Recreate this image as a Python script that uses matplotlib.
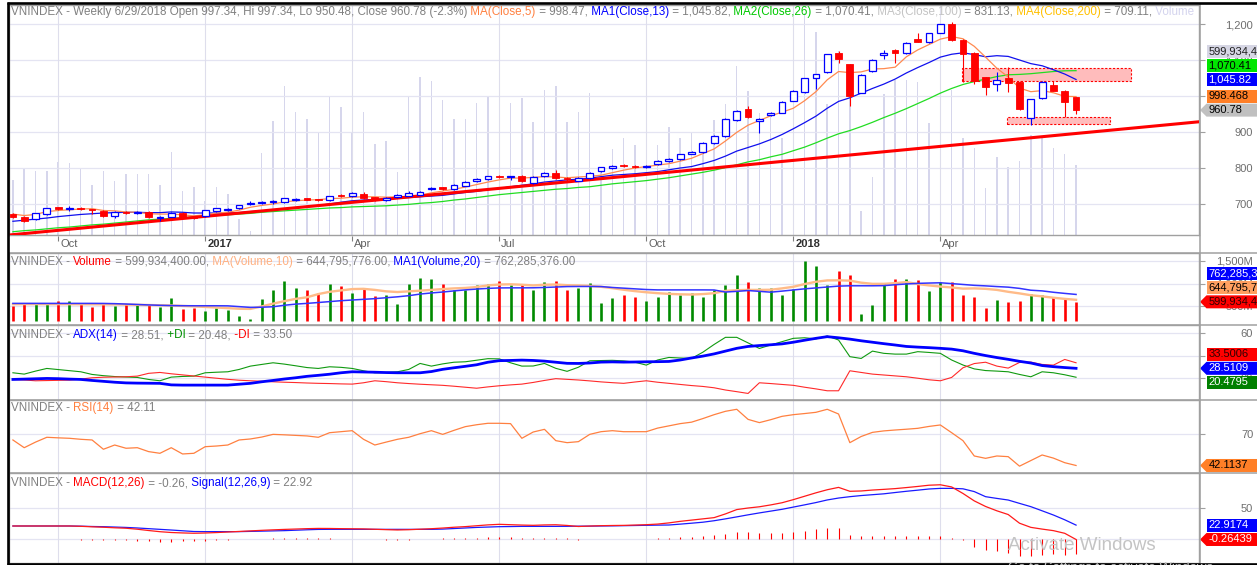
import numpy as np
import pandas as pd
import matplotlib
matplotlib.use("Agg")
import matplotlib.pyplot as plt
from matplotlib.patches import Rectangle, Polygon
from matplotlib.lines import Line2D
from matplotlib.ticker import FuncFormatter
from matplotlib.transforms import IdentityTransform

# weekly VNINDEX bars, last bar = week of 6/29/2018
OPEN = [672, 665, 658, 672, 691, 685, 689, 686, 681, 668,
        679, 676, 677, 662, 665, 676, 665, 666, 681, 682,
        688, 700, 703, 705, 706, 710, 716, 713, 710, 725,
        722, 729, 719, 711, 719, 723, 726, 741, 746, 742,
        751, 763, 769, 778, 775, 778, 758, 778, 787, 773,
        765, 771, 792, 800, 809, 806, 803, 810, 820, 825,
        840, 845, 870, 889, 932, 963, 930, 946, 954, 987,
        1010, 1050, 1066, 1120, 1088, 1009, 1070, 1114, 1128, 1120,
        1157, 1150, 1176, 1200, 1155, 1120, 1052, 1033, 1049, 1040,
        938, 994, 1031, 1015, 997.34]
HIGH = [674, 666, 676, 690, 693, 694, 691, 687, 683, 681,
        681, 681, 681, 666, 678, 678, 667, 684, 690, 690,
        698, 708, 708, 711, 718, 716, 718, 715, 723, 727,
        732, 733, 720, 720, 728, 735, 737, 747, 748, 755,
        763, 772, 779, 780, 779, 780, 778, 789, 794, 775,
        775, 789, 804, 808, 811, 808, 808, 822, 828, 840,
        847, 871, 892, 938, 962, 972, 938, 956, 986, 1016,
        1051, 1062, 1118, 1126, 1090, 1060, 1102, 1128, 1130, 1150,
        1174, 1176, 1201, 1206, 1157, 1122, 1054, 1067, 1080, 1042,
        993, 1042, 1042, 1017, 997.34]
LOW = [660, 651, 656, 670, 684, 680, 683, 673, 665, 660,
       673, 672, 661, 654, 663, 663, 658, 664, 679, 681,
       686, 698, 701, 700, 704, 708, 710, 708, 708, 719,
       720, 715, 708, 709, 717, 721, 724, 739, 740, 740,
       749, 761, 767, 773, 766, 761, 756, 776, 769, 764,
       763, 769, 790, 798, 804, 801, 801, 808, 818, 823,
       838, 843, 868, 887, 930, 939, 898, 944, 952, 985,
       1008, 1020, 1064, 1091, 972, 1007, 1068, 1102, 1091, 1118,
       1149, 1148, 1174, 1152, 1040, 1033, 1003, 1015, 1012, 961,
       919, 992, 1013, 942, 950.48]
CLOSE = [664, 653, 674, 688, 686, 689, 686, 684, 667, 679,
         675, 678, 665, 665, 676, 665, 662, 682, 688, 687,
         696, 703, 706, 707, 716, 714, 712, 710, 721, 721,
         730, 717, 710, 718, 726, 731, 734, 745, 742, 753,
         761, 770, 777, 775, 777, 763, 776, 787, 771, 769,
         773, 787, 802, 806, 806, 803, 806, 820, 826, 838,
         845, 869, 889, 935, 959, 941, 936, 954, 984, 1014,
         1049, 1060, 1116, 1102, 1000, 1058, 1100, 1120, 1120, 1148,
         1151, 1174, 1199, 1155, 1118, 1043, 1024, 1044, 1037, 963,
         991, 1040, 1015, 983.6, 960.78]

MA5 = [672, 668, 671, 679, 682, 684, 686, 687, 682, 681,
       678, 677, 673, 672, 672, 670, 667, 670, 675, 677,
       683, 691, 696, 700, 706, 709, 711, 712, 715, 716,
       719, 720, 720, 719, 720, 720, 724, 731, 736, 741,
       747, 754, 761, 767, 772, 772, 774, 776, 775, 773,
       775, 777, 780, 787, 794, 800, 804, 808, 812, 819,
       827, 840, 853, 875, 899, 919, 932, 945, 955, 966,
       987, 1012, 1045, 1068, 1065, 1067, 1075, 1076, 1080, 1109,
       1128, 1143, 1158, 1165, 1159, 1138, 1108, 1077, 1053, 1022,
       1012, 1015, 1009, 999, 998.468]
MA13 = [652, 655, 658, 661, 665, 668, 671, 673, 675, 676,
        677, 677, 676, 676, 678, 677, 675, 675, 675, 675,
        676, 679, 681, 683, 686, 690, 693, 696, 700, 705,
        709, 711, 713, 714, 716, 718, 720, 722, 724, 728,
        732, 735, 740, 743, 748, 752, 756, 761, 764, 767,
        769, 772, 776, 780, 782, 784, 787, 790, 795, 800,
        804, 812, 821, 833, 847, 857, 867, 879, 893, 909,
        926, 944, 966, 985, 995, 1008, 1021, 1033, 1047, 1064,
        1079, 1093, 1108, 1116, 1120, 1115, 1109, 1112, 1110, 1100,
        1090, 1084, 1073, 1061, 1045.82]
MA26 = [623, 626, 628, 631, 634, 636, 639, 642, 644, 647,
        650, 653, 656, 658, 660, 662, 664, 666, 668, 670,
        672, 674, 677, 679, 681, 683, 685, 687, 689, 690,
        692, 693, 694, 695, 697, 699, 702, 704, 707, 711,
        714, 718, 722, 726, 729, 732, 735, 738, 741, 743,
        746, 748, 752, 756, 759, 762, 765, 769, 773, 778,
        783, 788, 794, 801, 809, 817, 823, 831, 838, 848,
        858, 870, 883, 895, 904, 915, 927, 940, 952, 965,
        979, 993, 1008, 1021, 1032, 1040, 1047, 1054, 1059, 1060,
        1062, 1065, 1068, 1070, 1070.41]
MA100_LAST, MA200_LAST = 831.13, 709.11

# volume in millions of shares
VOLUME = [510, 575, 565, 565, 618, 612, 575, 485, 565, 508,
          545, 545, 545, 485, 675, 450, 470, 390, 470, 430,
          280, 215, 670, 855, 1060, 912, 870, 795, 1000, 940,
          786, 912, 720, 743, 560, 1000, 1115, 1090, 983, 868,
          868, 962, 1000, 1060, 964, 992, 854, 1037, 1060, 854,
          911, 1020, 575, 692, 755, 714, 625, 714, 825, 759,
          796, 714, 862, 959, 1181, 1033, 907, 907, 759, 885,
          1492, 1381, 959, 1270, 1181, 329, 529, 1018, 1100, 1100,
          1085, 848, 1040, 1040, 759, 699, 462, 647, 588, 625,
          774, 759, 699, 662, 599.9344]
VOL_MA10 = [548, 550, 550, 549, 549, 548, 547, 546, 545, 544,
            540, 535, 530, 525, 520, 510, 500, 488, 475, 462,
            448, 445, 500, 560, 615, 665, 700, 770, 820, 850,
            880, 885, 862, 830, 815, 830, 845, 862, 880, 895,
            905, 925, 960, 980, 985, 975, 960, 975, 980, 965,
            960, 950, 930, 900, 865, 835, 810, 790, 775, 765,
            760, 770, 790, 840, 855, 862, 862, 865, 895, 930,
            990, 1040, 1070, 1072, 1065, 1020, 995, 995, 1010, 1033,
            990, 960, 935, 915, 890, 895, 885, 862, 820, 785,
            745, 720, 690, 665, 644.795776]
VOL_MA20 = [566, 566, 566, 566, 566, 566, 566, 566, 565, 560,
            552, 542, 532, 524, 518, 515, 514, 514, 514, 512,
            495, 478, 482, 492, 525, 550, 566, 585, 605, 625,
            640, 655, 670, 690, 710, 735, 770, 795, 815, 840,
            862, 880, 895, 905, 907, 907, 908, 915, 925, 935,
            937, 937, 935, 915, 900, 885, 870, 862, 862, 862,
            862, 862, 860, 815, 830, 848, 830, 812, 835, 860,
            885, 905, 925, 945, 952, 952, 952, 955, 975, 992,
            1005, 1012, 1018, 1000, 981, 962, 950, 935, 922, 895,
            855, 840, 810, 785, 762.285376]

ADX = [18.5, 18.8, 19.1, 19.4, 19.2, 18.8, 18.5, 17.6, 16.8, 16.0,
       15.4, 15.2, 15.1, 15.0, 13.6, 13.4, 13.4, 13.4, 13.4, 13.4,
       14.2, 15.0, 16.4, 17.6, 18.9, 20.0, 21.3, 22.2, 23.2, 24.5,
       25.4, 25.2, 25.0, 24.7, 24.5, 24.5, 24.5, 25.6, 27.6, 29.0,
       30.3, 31.7, 34.0, 35.4, 35.6, 35.9, 35.6, 35.0, 34.0, 33.0,
       32.9, 33.3, 34.1, 34.3, 34.1, 34.2, 34.4, 34.5, 34.7, 36.0,
       37.8, 39.5, 41.5, 44.0, 46.5, 48.2, 49.0, 49.7, 50.5, 52.0,
       53.8, 55.5, 57.0, 56.0, 54.8, 53.3, 52.0, 50.7, 49.5, 48.2,
       47.6, 47.1, 46.5, 45.8, 44.3, 42.0, 40.0, 38.2, 36.6, 34.8,
       33.3, 31.0, 30.0, 29.2, 28.5109]
PLUS_DI = [24.5, 23.3, 26.0, 28.4, 27.4, 26.4, 25.4, 23.0, 21.9, 21.1,
           20.7, 20.3, 18.5, 17.3, 20.6, 21.2, 21.5, 24.5, 25.0, 25.4,
           27.5, 30.5, 32.0, 33.5, 32.3, 30.8, 29.2, 28.4, 29.9, 29.4,
           28.4, 26.3, 24.5, 24.8, 25.4, 27.5, 32.9, 30.5, 32.5, 34.0,
           34.4, 35.8, 37.2, 37.0, 33.5, 30.5, 30.6, 32.9, 28.5, 25.8,
           29.5, 35.3, 35.5, 35.7, 35.2, 34.0, 31.4, 36.0, 38.3, 37.8,
           37.4, 43.0, 50.0, 56.4, 56.4, 51.4, 46.4, 49.5, 52.5, 55.5,
           56.0, 55.0, 57.6, 54.0, 39.0, 37.4, 44.0, 42.0, 41.3, 41.3,
           43.5, 42.8, 42.0, 36.0, 31.5, 28.0, 26.5, 26.0, 25.4, 23.0,
           20.9, 25.4, 24.5, 22.7, 20.4795]
MINUS_DI = [18.5, 18.0, 17.3, 17.5, 17.7, 17.9, 18.8, 20.0, 20.5, 20.7,
            20.9, 21.5, 24.0, 24.8, 23.6, 22.6, 21.6, 20.6, 19.6, 18.6,
            17.8, 17.3, 16.9, 16.4, 16.0, 15.7, 15.3, 15.0, 14.8, 14.5,
            14.3, 15.5, 17.3, 16.5, 15.5, 14.8, 14.2, 13.7, 13.2, 12.4,
            11.5, 10.6, 11.8, 12.8, 13.6, 14.3, 15.8, 17.6, 19.2, 18.6,
            18.0, 17.2, 16.3, 15.6, 15.0, 16.2, 17.3, 16.0, 15.0, 14.0,
            13.0, 12.2, 11.0, 9.0, 7.5, 5.9, 15.5, 14.8, 14.0, 13.2,
            11.5, 10.0, 8.3, 8.3, 26.3, 24.8, 23.3, 22.5, 21.7, 20.9,
            19.6, 18.2, 17.3, 20.3, 29.0, 32.8, 34.0, 30.5, 28.7, 33.8,
            34.1, 32.0, 31.4, 36.5, 33.5006]
RSI = [64.9, 58.0, 63.0, 67.3, 66.8, 66.4, 65.5, 64.9, 56.6, 60.4,
       57.5, 58.0, 54.5, 53.0, 58.0, 52.4, 53.0, 58.9, 59.5, 60.4,
       64.9, 65.8, 67.5, 69.9, 69.5, 69.0, 68.5, 67.3, 71.4, 72.3,
       73.2, 65.5, 60.4, 63.0, 65.5, 67.3, 70.5, 73.2, 69.9, 73.5,
       76.8, 78.5, 79.8, 79.8, 79.5, 66.4, 72.0, 74.4, 64.3, 62.5,
       63.4, 69.9, 72.3, 73.2, 72.3, 72.3, 72.3, 75.5, 77.5, 79.5,
       80.8, 84.0, 87.5, 90.5, 92.3, 83.3, 80.4, 83.0, 86.0, 87.5,
       88.5, 89.6, 92.3, 88.1, 62.5, 68.0, 71.7, 73.0, 73.8, 74.5,
       75.3, 77.0, 78.3, 71.4, 64.3, 50.6, 48.5, 50.6, 50.0, 41.5,
       46.5, 51.5, 48.7, 44.6, 42.1137]
MACD = [21.5, 21.5, 21.5, 21.5, 21.5, 21.5, 21.0, 20.2, 19.5, 18.6,
        17.9, 16.3, 14.2, 12.3, 11.0, 10.3, 9.8, 10.2, 10.9, 11.8,
        12.7, 13.6, 14.5, 15.3, 16.0, 16.6, 17.2, 17.6, 17.5, 17.2,
        17.0, 16.8, 16.2, 15.6, 15.1, 15.5, 16.3, 17.1, 18.2, 19.5,
        20.5, 21.9, 23.3, 24.2, 23.6, 23.0, 22.6, 23.2, 23.5, 22.4,
        20.7, 21.4, 22.0, 22.3, 22.5, 23.0, 23.6, 24.6, 26.5, 29.0,
        31.0, 33.0, 35.0, 41.0, 48.0, 50.5, 52.5, 55.5, 59.0, 64.0,
        69.5, 75.0, 80.0, 83.8, 77.5, 78.0, 79.5, 80.6, 81.8, 83.5,
        85.3, 87.3, 88.0, 84.5, 74.0, 62.0, 53.0, 46.0, 40.0, 26.0,
        19.3, 16.5, 14.0, 9.7, -0.26439]
SIGNAL = [21.5, 21.5, 21.5, 21.5, 21.5, 21.5, 21.2, 20.7, 20.4, 19.8,
          19.2, 18.3, 17.2, 16.1, 15.0, 13.8, 12.6, 12.4, 12.4, 12.4,
          12.4, 12.8, 13.2, 13.6, 14.0, 14.7, 15.4, 16.0, 16.1, 16.1,
          16.1, 16.1, 16.1, 16.1, 16.1, 16.1, 16.1, 16.1, 16.5, 17.4,
          18.3, 19.2, 19.8, 20.4, 20.6, 20.9, 20.9, 20.9, 20.9, 21.0,
          21.2, 21.3, 21.5, 21.7, 22.0, 22.3, 22.6, 22.9, 23.1, 24.5,
          26.0, 27.6, 30.0, 33.0, 36.2, 39.5, 42.6, 45.5, 48.4, 52.0,
          55.6, 59.3, 63.5, 66.6, 68.8, 70.6, 72.0, 73.4, 75.5, 77.5,
          79.3, 81.2, 82.2, 82.2, 81.5, 77.0, 68.8, 66.0, 63.4, 58.0,
          52.7, 46.0, 39.2, 31.5, 22.9174]
MACD_HIST = [0.0, 0.0, 0.0, 0.0, 0.0, 0.0, -0.3, -0.5, -0.9, -1.2,
             -1.3, -2.0, -3.0, -3.8, -4.0, -3.5, -2.8, -2.2, -1.5, -0.6,
             0.3, 0.8, 1.3, 1.7, 2.0, 1.9, 1.8, 1.6, 1.4, 1.1,
             0.9, 0.7, 0.1, -0.5, -1.0, -0.6, 0.2, 1.0, 1.7, 2.1,
             2.2, 2.7, 3.5, 3.8, 3.0, 2.1, 1.7, 2.3, 2.6, 1.4,
             -0.5, 0.1, 0.5, 0.6, 0.5, 0.7, 1.0, 1.7, 2.5, 3.0,
             3.5, 5.0, 7.0, 8.6, 11.3, 11.3, 9.7, 9.7, 10.7, 12.4,
             14.0, 16.1, 18.3, 18.3, 7.5, 5.4, 5.4, 5.4, 5.4, 5.4,
             5.4, 5.4, 5.4, 2.7, -1.0, -11.8, -17.2, -18.8, -22.6, -26.9,
             -26.9, -25.3, -23.7, -25.3, -23.2]

# objects drawn by hand on the price pane
TREND_X = [-0.3, 104.9]
TREND_Y = [614, 928.5]
ZONES = [(83.9, 98.9, 1041, 1077), (87.9, 97.0, 921, 943)]

LAST_DATE = "2018-06-29"

# ---------------------------------------------------------------------------
W, H = 1257, 565
plt.rcParams["font.family"] = ["Liberation Sans", "DejaVu Sans"]
fig = plt.figure(figsize=(W / 100, H / 100), dpi=100)

GRAY = "#808080"
GRID = "#e4e4f2"
VGRID = "#dedeec"
SEP = "#a0a0a0"
BLUE = "#0000ff"
RED = "#ff0000"
FS = 8
HFS = 8.4

n = len(CLOSE)
x = np.arange(n)
o, hi, lo, c = (np.array(a, float) for a in (OPEN, HIGH, LOW, CLOSE))
up = c >= o
dates = pd.date_range(end=LAST_DATE, periods=n, freq="W-FRI")

tick_idx, tick_lab = [], []
for i in range(1, n):
    m = dates[i].month
    if m != dates[i - 1].month and m in (1, 4, 7, 10):
        tick_idx.append(i)
        tick_lab.append(str(dates[i].year) if m == 1 else dates[i].strftime("%b"))

XLIM = (-0.345, 104.87)


def add_panel(top, bottom):
    return fig.add_axes([9 / W, 1 - bottom / H, 1190 / W, (bottom - top) / H])


def style(ax, ylim, ticks, fmt):
    ax.set_xlim(XLIM)
    ax.set_ylim(ylim)
    ax.set_xticks([])
    for s in ax.spines.values():
        s.set_color(SEP)
        s.set_linewidth(1)
    ax.yaxis.tick_right()
    ax.set_yticks(ticks)
    ax.yaxis.set_major_formatter(FuncFormatter(fmt))
    ax.tick_params(axis="y", length=4, color=SEP, labelcolor="#6e6e6e",
                   labelsize=FS, pad=35)
    for lab in ax.get_yticklabels():
        lab.set_horizontalalignment("right")
    for t in ticks:
        ax.axhline(t, color=GRID, lw=0.9, zorder=0)
    for t in tick_idx:
        ax.axvline(t, color=VGRID, lw=0.8, zorder=0)


ax_p = add_panel(5, 235)
ax_ov = ax_p.twinx()
ax_v = add_panel(253, 325)
ax_a = add_panel(325, 400)
ax_r = add_panel(400, 473)
ax_m = add_panel(473, 563)

# volume drawn faintly behind the candles
ax_ov.set_zorder(ax_p.get_zorder() - 1)
ax_p.patch.set_visible(False)
ax_ov.set_ylim(189, 1538)
ax_ov.yaxis.set_visible(False)
for s in ax_ov.spines.values():
    s.set_visible(False)
ax_ov.bar(x, VOLUME, width=0.13, color="#d6d6ec", linewidth=0)

style(ax_p, (613.9, 1252.8), [700, 800, 900, 1000, 1100, 1200], lambda v, p: f"{v:,.0f}")
style(ax_v, (92, 1671), [500, 1000, 1500], lambda v, p: f"{v:,.0f}M")
style(ax_a, (0, 67.5), [20, 40, 60], lambda v, p: f"{v:.0f}")
style(ax_r, (35.4, 100.6), [70], lambda v, p: f"{v:.0f}")
style(ax_m, (-38.2, 107), [0, 50], lambda v, p: f"{v:.0f}")

# ---- price pane ----
for x0, x1, y0, y1 in ZONES:
    ax_p.add_patch(Rectangle((x0, y0), x1 - x0, y1 - y0, facecolor="#ffbcbc",
                             edgecolor=RED, lw=0.8, linestyle=(0, (2, 1.5)), zorder=2))
ax_p.plot(x, MA26, color="#22dd22", lw=0.9, zorder=3)
ax_p.plot(x, MA13, color="#1010ee", lw=0.9, zorder=3)
ax_p.plot(x, MA5, color="#ff8a50", lw=0.9, zorder=3)
ax_p.plot(TREND_X, TREND_Y, color=RED, lw=2.2, zorder=3.5, solid_capstyle="butt")

ax_p.vlines(x[up], lo[up], hi[up], color=BLUE, lw=0.8, zorder=4)
ax_p.vlines(x[~up], lo[~up], hi[~up], color=RED, lw=0.8, zorder=4)
ax_p.bar(x[up], (c - o)[up], bottom=o[up], width=0.6, facecolor="white",
         edgecolor=BLUE, lw=0.9, zorder=5)
ax_p.bar(x[~up], (o - c)[~up], bottom=c[~up], width=0.6, facecolor=RED,
         edgecolor=RED, lw=0.6, zorder=5)

# ---- volume pane ----
VOL_FLOOR = 180
vol = np.array(VOLUME)
ax_v.vlines(x[up], VOL_FLOOR, vol[up], color="#008a00", lw=1.9, zorder=3)
ax_v.vlines(x[~up], VOL_FLOOR, vol[~up], color=RED, lw=1.9, zorder=3)
ax_v.plot(x, VOL_MA10, color="#ffbb88", lw=1.7, zorder=4)
ax_v.plot(x, VOL_MA20, color="#3333ff", lw=1.1, zorder=4)

# ---- ADX pane ----
ax_a.plot(x, PLUS_DI, color="#109a10", lw=0.8, zorder=3)
ax_a.plot(x, MINUS_DI, color="#ff2a2a", lw=0.8, zorder=3)
ax_a.plot(x, ADX, color="#0000ff", lw=2.0, zorder=4)

# ---- RSI pane ----
ax_r.plot(x, RSI, color="#ff8040", lw=0.9, zorder=3)

# ---- MACD pane ----
ax_m.vlines(x, 0, MACD_HIST, color=RED, lw=0.8, zorder=2)
ax_m.plot(x, SIGNAL, color="#1a1aff", lw=0.9, zorder=3)
ax_m.plot(x, MACD, color="#ff1a1a", lw=0.9, zorder=3)

# ---- frame lines ----
def px_line(xs, ys, color, lw):
    fig.add_artist(Line2D(xs, [H - y for y in ys], transform=IdentityTransform(),
                          color=color, lw=lw, solid_capstyle="butt"))


for yy in (253, 325, 400, 473):
    px_line([9, W], [yy, yy], SEP, 1.1)
px_line([1199.5, 1199.5], [4, 563], SEP, 1.1)
px_line([8, 8], [2, H], "black", 1.9)
px_line([7, W], [3, 3], "black", 1.9)
px_line([7, W], [563.5, 563.5], "black", 1.9)

# ---- date strip ----
for i, lab in zip(tick_idx, tick_lab):
    xd = ax_p.transData.transform((i, 0))[0]
    px_line([xd, xd], [236, 241], GRAY, 0.8)
    bold = lab.isdigit()
    fig.text((xd + 2) / W, 1 - 244 / H, lab, fontsize=FS, va="center", ha="left",
             color="#303030" if bold else "#606060", fontweight="bold" if bold else "normal")

# ---- multicoloured panel headers ----
renderer = fig.canvas.get_renderer()


def header(y_px, parts):
    xpos = 11
    for s, col in parts:
        t = fig.text(xpos / W, 1 - y_px / H, s, color=col, fontsize=HFS, va="center", ha="left")
        xpos = t.get_window_extent(renderer).x1


chg = (c[-1] / c[-2] - 1) * 100
header(12, [
    (f"VNINDEX - Weekly {dates[-1].month}/{dates[-1].day}/{dates[-1].year} Open {o[-1]:.2f}, "
     f"Hi {hi[-1]:.2f}, Lo {lo[-1]:.2f}, Close {c[-1]:.2f} ({chg:.1f}%)", GRAY),
    (" MA(Close,5)", "#ff8040"), (f" = {MA5[-1]:,.2f},", GRAY),
    (" MA1(Close,13)", BLUE), (f" = {MA13[-1]:,.2f},", GRAY),
    (" MA2(Close,26)", "#00c800"), (f" = {MA26[-1]:,.2f},", GRAY),
    (" MA3(Close,100)", "#c4c4c4"), (f" = {MA100_LAST:,.2f},", GRAY),
    (" MA4(Close,200)", "#ffc000"), (f" = {MA200_LAST:,.2f},", GRAY),
    (" Volume", "#d4d4ee"),
])
header(262, [
    ("VNINDEX - ", GRAY), ("Volume", RED), (f" = {VOLUME[-1] * 1e6:,.2f},", GRAY),
    (" MA(Volume,10)", "#ffb080"), (f" = {VOL_MA10[-1] * 1e6:,.2f},", GRAY),
    (" MA1(Volume,20)", BLUE), (f" = {VOL_MA20[-1] * 1e6:,.2f}", GRAY),
])
header(335, [
    ("VNINDEX - ", GRAY), ("ADX(14)", BLUE), (f" = {ADX[-1]:.2f},", GRAY),
    (" +DI", "#009000"), (f" = {PLUS_DI[-1]:.2f},", GRAY),
    (" -DI", RED), (f" = {MINUS_DI[-1]:.2f}", GRAY),
])
header(408, [("VNINDEX - ", GRAY), ("RSI(14)", "#ff8040"), (f" = {RSI[-1]:.2f}", GRAY)])
header(483, [
    ("VNINDEX - ", GRAY), ("MACD(12,26)", RED), (f" = {MACD[-1]:.2f},", GRAY),
    (" Signal(12,26,9)", BLUE), (f" = {SIGNAL[-1]:.2f}", GRAY),
])

# ---- last-value boxes on the right axis ----
def value_boxes(entries, arrow_at):
    ys = [ax.transData.transform((0, v))[1] for ax, v, *_ in entries]
    for j in range(arrow_at - 1, -1, -1):
        ys[j] = max(ys[j], ys[j + 1] + 14)
    for j in range(arrow_at + 1, len(ys)):
        ys[j] = min(ys[j], ys[j - 1] - 14)
    for j, (ax, v, txt, bg, fg) in enumerate(entries):
        y = ys[j]
        pts = [(1206.5, y + 6.5), (1262, y + 6.5), (1262, y - 6.5), (1206.5, y - 6.5)]
        if j == arrow_at:
            pts.append((1200, y))
        fig.add_artist(Polygon(pts, closed=True, facecolor=bg, edgecolor="none",
                               transform=IdentityTransform()))
        fig.text(1208.5 / W, y / H, txt, color=fg, fontsize=FS, va="center", ha="left")


def g6(v):
    return f"{v:,.6g}"


value_boxes([
    (ax_ov, VOLUME[-1], f"{VOLUME[-1] * 1e6:,.0f}", "#d6d6e4", "#202020"),
    (ax_p, MA26[-1], g6(MA26[-1]), "#00e600", "black"),
    (ax_p, MA13[-1], g6(MA13[-1]), BLUE, "white"),
    (ax_p, MA5[-1], g6(MA5[-1]), "#ff7f27", "black"),
    (ax_p, CLOSE[-1], g6(CLOSE[-1]), "#c0c0c0", "black"),
], 4)
value_boxes([
    (ax_v, VOL_MA20[-1], f"{VOL_MA20[-1] * 1e6:,.0f}", BLUE, "white"),
    (ax_v, VOL_MA10[-1], f"{VOL_MA10[-1] * 1e6:,.0f}", "#ffa060", "black"),
    (ax_v, VOLUME[-1], f"{VOLUME[-1] * 1e6:,.0f}", RED, "#300000"),
], 2)
value_boxes([
    (ax_a, MINUS_DI[-1], g6(MINUS_DI[-1]), RED, "#300000"),
    (ax_a, ADX[-1], g6(ADX[-1]), BLUE, "white"),
    (ax_a, PLUS_DI[-1], g6(PLUS_DI[-1]), "#008000", "white"),
], 1)
value_boxes([(ax_r, RSI[-1], g6(RSI[-1]), "#ff7f27", "black")], 0)
value_boxes([
    (ax_m, SIGNAL[-1], g6(SIGNAL[-1]), BLUE, "white"),
    (ax_m, MACD[-1], g6(MACD[-1]), RED, "white"),
], 1)

# screen watermark
fig.text(1008 / W, 1 - 545 / H, "Activate Windows", fontsize=13.5, color="#c4c4c4",
         va="center", ha="left")
fig.text(1008 / W, 1 - 568 / H, "Go to Settings to activate Windows.", fontsize=9.5,
         color="#c4c4c4", va="center", ha="left")

fig.savefig("out.png", dpi=100, facecolor="white")
